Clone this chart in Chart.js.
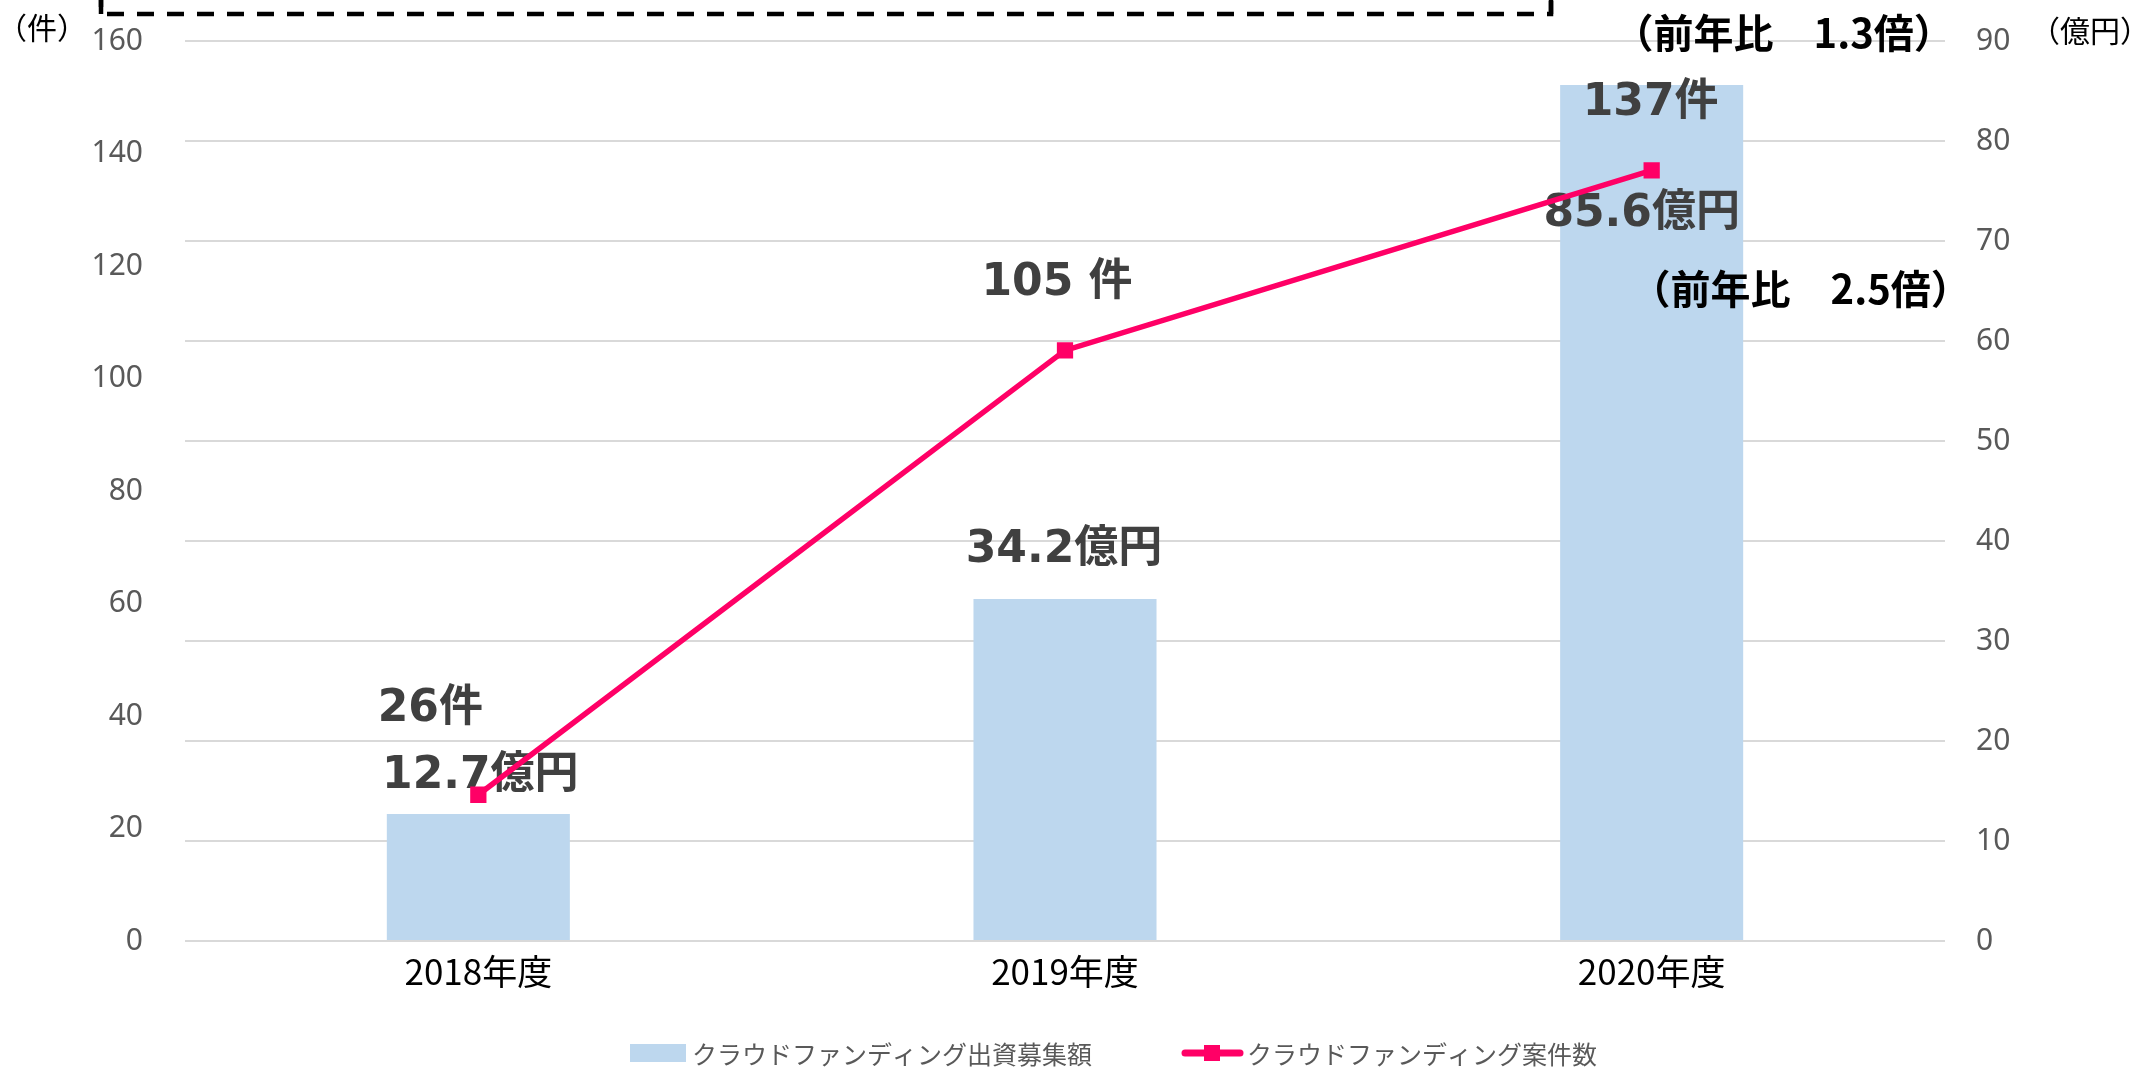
<!DOCTYPE html>
<html>
<head>
<meta charset="utf-8">
<script src="https://cdn.jsdelivr.net/npm/chart.js@4.4.1/dist/chart.umd.min.js"></script>
<style>
html,body{margin:0;padding:0;background:#fff;}
#wrap{width:2139px;height:1067px;position:relative;}
</style>
</head>
<body>
<div id="wrap"><canvas id="c"></canvas></div>
<script>
// ---- data ----
const categories = ['2018年度', '2019年度', '2020年度'];
const amountOku = [12.7, 34.2, 85.6];          // 出資募集額（億円）
const caseCount = [26, 105, 137];               // 案件数（件）
const amountLabels = ['12.7億円', '34.2億円', '85.6億円'];
const countLabels = ['26件', '105 件', '137件'];
const ratioLabels = ['（前年比　1.3倍）', '（前年比　2.5倍）'];
const leftTicks = {min: 0, max: 160, step: 20};
const rightTicks = {min: 0, max: 90, step: 10};
const seriesNames = ['クラウドファンディング出資募集額', 'クラウドファンディング案件数'];
const unitLeft = '（件）';
const unitRight = '（億円）';

// ---- layout / style (not data) ----
const BAR_COLOR = '#BDD7EE';
const LINE_COLOR = '#FF0066';
const LABEL_COLOR = '#404040';
const BIG_FONT = "bold 44px 'DejaVu Sans', 'Noto Sans CJK JP', sans-serif";
const RATIO_FONT = "bold 40px 'Noto Sans CJK JP', sans-serif";
const amountOffsets = [[2, -37], [-1, -48], [-10, 130]];
const countOffsets = [[-48, -85], [-8, -67], [-1, -67]];

const overlay = {
  id: 'overlay',
  afterDatasetDraw(chart, args) {
    if (args.meta.type !== 'bar') return;
    const ctx = chart.ctx;
    ctx.save();
    ctx.font = BIG_FONT;
    ctx.fillStyle = LABEL_COLOR;
    ctx.textAlign = 'center';
    ctx.textBaseline = 'middle';
    args.meta.data.forEach((el, i) => {
      ctx.fillText(amountLabels[i], el.x + amountOffsets[i][0], el.y + amountOffsets[i][1]);
    });
    ctx.restore();
  },
  afterDatasetsDraw(chart) {
    const ctx = chart.ctx;
    const xs = chart.scales.x;
    const lineMeta = chart.getDatasetMeta(0);
    ctx.save();
    ctx.font = BIG_FONT;
    ctx.fillStyle = LABEL_COLOR;
    ctx.textAlign = 'center';
    ctx.textBaseline = 'middle';
    lineMeta.data.forEach((el, i) => {
      ctx.fillText(countLabels[i], el.x + countOffsets[i][0], el.y + countOffsets[i][1]);
    });
    // ratio annotations
    ctx.font = RATIO_FONT;
    ctx.fillStyle = '#000';
    const x2020 = xs.getPixelForValue(2);
    ctx.fillText(ratioLabels[0], x2020 + 132, 33);
    ctx.fillText(ratioLabels[1], x2020 + 149, 289);
    // unit labels
    ctx.font = "30px 'Noto Sans CJK JP', sans-serif";
    ctx.fillText(unitLeft, 42, 28);
    ctx.fillText(unitRight, 2090, 31);
    // dashed box (partly outside the top)
    ctx.strokeStyle = '#000';
    ctx.lineWidth = 4.5;
    ctx.setLineDash([17, 13]);
    ctx.beginPath();
    ctx.moveTo(101, -10);
    ctx.lineTo(101, 14);
    ctx.lineTo(1551, 14);
    ctx.lineTo(1551, -10);
    ctx.stroke();
    ctx.setLineDash([]);
    ctx.beginPath();
    ctx.moveTo(101, -2); ctx.lineTo(101, 14); ctx.stroke();
    ctx.beginPath();
    ctx.moveTo(1551, -2); ctx.lineTo(1551, 14); ctx.stroke();
    // legend
    ctx.font = "25px 'Noto Sans CJK JP', sans-serif";
    ctx.textAlign = 'left';
    let x = 630;
    const ly = 1054;
    ctx.fillStyle = BAR_COLOR;
    ctx.fillRect(x, 1044, 56, 18);
    x += 62;
    ctx.fillStyle = '#595959';
    ctx.fillText(seriesNames[0], x, ly);
    x += ctx.measureText(seriesNames[0]).width + 90;
    ctx.strokeStyle = LINE_COLOR;
    ctx.lineWidth = 7;
    ctx.lineCap = 'round';
    ctx.beginPath(); ctx.moveTo(x + 3, 1053); ctx.lineTo(x + 58, 1053); ctx.stroke();
    ctx.fillStyle = LINE_COLOR;
    ctx.fillRect(x + 22, 1045, 16, 16);
    x += 65;
    ctx.fillStyle = '#595959';
    ctx.fillText(seriesNames[1], x, ly);
    ctx.restore();
  }
};

function fixY(width) {
  return function (s) { s.width = width; s.paddingTop = 0; s.paddingBottom = 0; };
}

new Chart(document.getElementById('c'), {
  type: 'bar',
  data: {
    labels: categories,
    datasets: [
      {
        type: 'line',
        label: seriesNames[1],
        data: caseCount,
        yAxisID: 'yL',
        borderColor: LINE_COLOR,
        backgroundColor: LINE_COLOR,
        borderWidth: 5.5,
        pointStyle: 'rect',
        pointRadius: 11.5,
        pointHoverRadius: 11.5,
        pointBackgroundColor: LINE_COLOR,
        pointBorderWidth: 0,
        tension: 0,
        order: 0
      },
      {
        type: 'bar',
        label: seriesNames[0],
        data: amountOku,
        yAxisID: 'yR',
        backgroundColor: BAR_COLOR,
        categoryPercentage: 0.312,
        barPercentage: 1,
        order: 1
      }
    ]
  },
  options: {
    responsive: true,
    maintainAspectRatio: false,
    animation: false,
    layout: {padding: {top: 41, left: 0, right: 0, bottom: 0}},
    plugins: {legend: {display: false}, tooltip: {enabled: false}},
    scales: {
      x: {
        grid: {display: false, drawTicks: false},
        border: {display: false},
        ticks: {color: '#000', font: {family: "'Noto Sans CJK JP'", size: 35}, padding: 10},
        afterFit(s) { s.height = 126; }
      },
      yL: {
        position: 'left',
        min: leftTicks.min, max: leftTicks.max,
        grid: {display: false, drawTicks: false},
        border: {display: false},
        ticks: {stepSize: leftTicks.step, color: '#595959', font: {family: "'Noto Sans'", size: 30}, padding: 42},
        afterFit: fixY(185)
      },
      yR: {
        position: 'right',
        min: rightTicks.min, max: rightTicks.max,
        grid: {display: true, color: '#D9D9D9', lineWidth: 2, drawTicks: false},
        border: {display: false},
        ticks: {stepSize: rightTicks.step, color: '#595959', font: {family: "'Noto Sans'", size: 30}, padding: 31},
        afterFit: fixY(194)
      }
    }
  },
  plugins: [overlay]
});
</script>
</body>
</html>
